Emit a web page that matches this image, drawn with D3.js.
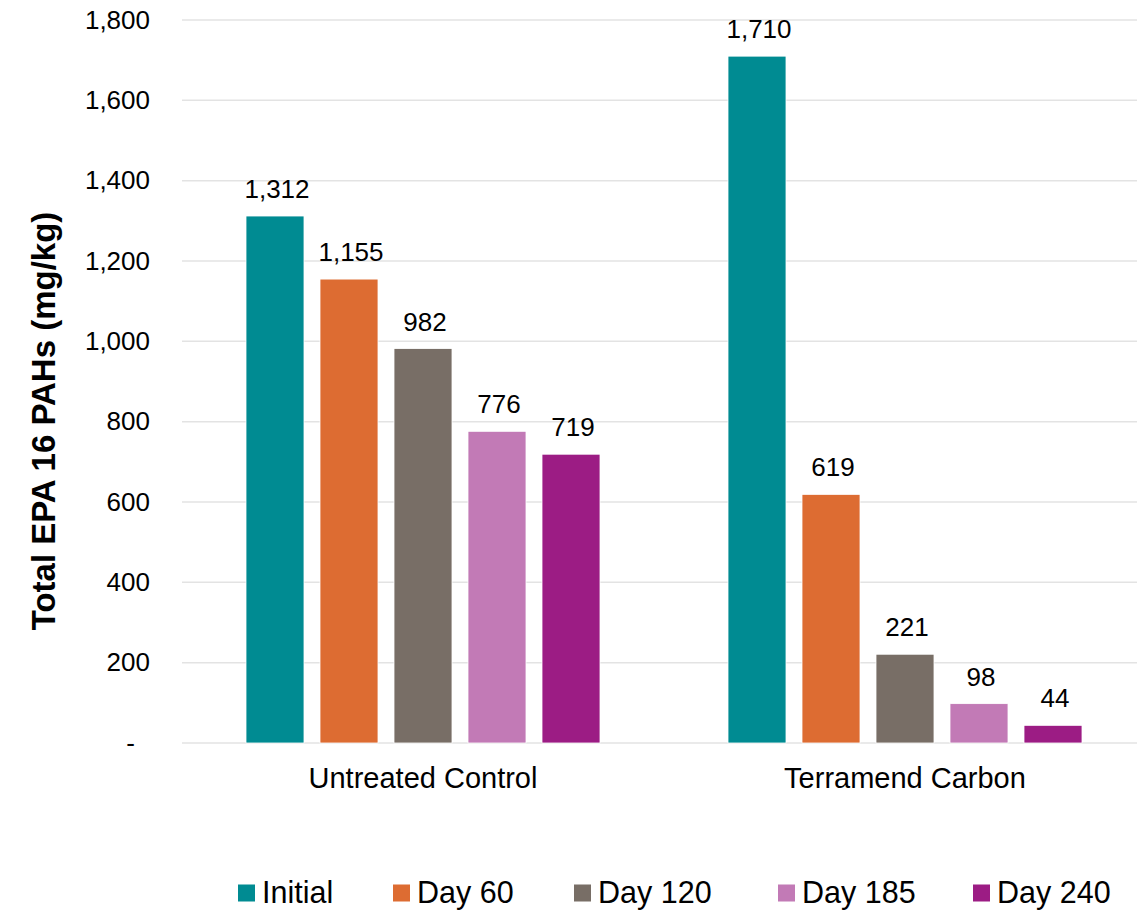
<!DOCTYPE html>
<html>
<head>
<meta charset="utf-8">
<script src="https://cdn.jsdelivr.net/npm/d3@7"></script>
<style>
  body { margin: 0; background: #fff; }
  svg text { font-family: "Liberation Sans", Arial, sans-serif; fill: #000; }
</style>
</head>
<body>
<svg id="viz" width="1137" height="911"></svg>
<script>
// data
const groups = ["Untreated Control", "Terramend Carbon"];
const series = ["Initial", "Day 60", "Day 120", "Day 185", "Day 240"];
const untreated = [1312, 1155, 982, 776, 719];
const terramend = [1710, 619, 221, 98, 44];
const yTicks = [0, 200, 400, 600, 800, 1000, 1200, 1400, 1600, 1800];
const colors = ["#008b92", "#dd6c32", "#786e66", "#c27ab6", "#9c1c84"];

const values = [untreated, terramend];

const svg = d3.select("#viz");
const plotLeft = 182, plotRight = 1146, plotTop = 20, plotBottom = 743;

const y = d3.scaleLinear().domain([0, 1800]).range([plotBottom, plotTop]);
const x0 = d3.scaleBand().domain(groups).range([plotLeft, plotRight]);
const inner = 370;
const x1 = d3.scaleBand().domain(series)
  .range([(x0.bandwidth() - inner) / 2, (x0.bandwidth() + inner) / 2])
  .paddingInner(16 / 74).paddingOuter(8 / 74);

// gridlines
svg.append("g")
  .selectAll("line")
  .data(yTicks)
  .join("line")
  .attr("x1", plotLeft).attr("x2", 1137)
  .attr("y1", d => y(d)).attr("y2", d => y(d))
  .attr("stroke", "#e3e3e3").attr("stroke-width", 1.5);

// y axis labels
const yAxis = svg.append("g")
  .attr("transform", `translate(150,0)`)
  .call(d3.axisLeft(y).tickValues(yTicks).tickSize(0).tickPadding(0)
    .tickFormat(d => d === 0 ? "-" : d3.format(",")(d)));
yAxis.select(".domain").remove();
yAxis.selectAll("text")
  .attr("font-size", 26)
  .attr("font-family", "Liberation Sans, Arial, sans-serif")
  .attr("fill", "#000")
  .attr("dx", d => d === 0 ? -15 : 0);

// bars
const g = svg.append("g")
  .selectAll("g")
  .data(groups)
  .join("g")
  .attr("transform", d => `translate(${x0(d)},0)`);

const bars = g.selectAll("g")
  .data((d, i) => series.map((s, j) => ({ s, v: values[i][j], c: colors[j] })))
  .join("g");

bars.append("rect")
  .attr("x", d => x1(d.s))
  .attr("width", x1.bandwidth())
  .attr("y", d => y(d.v))
  .attr("height", d => y(0) - y(d.v))
  .attr("fill", d => d.c)
  .attr("stroke", "#fff").attr("stroke-width", 0.8);

bars.append("text")
  .attr("x", d => x1(d.s) + x1.bandwidth() / 2 + 2)
  .attr("y", d => y(d.v) - 18)
  .attr("text-anchor", "middle")
  .attr("font-size", 26)
  .text(d => d3.format(",")(d.v));

// category labels
svg.append("g")
  .selectAll("text")
  .data(groups)
  .join("text")
  .attr("x", d => x0(d) + x0.bandwidth() / 2)
  .attr("y", 788)
  .attr("text-anchor", "middle")
  .attr("font-size", 29)
  .text(d => d);

// y axis title
svg.append("text")
  .attr("transform", "translate(55,421) rotate(-90)")
  .attr("text-anchor", "middle")
  .attr("font-size", 33)
  .attr("font-weight", "bold")
  .text("Total EPA 16 PAHs (mg/kg)");

// legend
const legendX = [238, 393, 574, 778, 973];
const legend = svg.append("g")
  .selectAll("g")
  .data(series)
  .join("g")
  .attr("transform", (d, i) => `translate(${legendX[i]},893)`);
legend.append("rect")
  .attr("x", 0).attr("y", -8.5).attr("width", 17).attr("height", 17)
  .attr("fill", (d, i) => colors[i]);
legend.append("text")
  .attr("x", 24).attr("y", 10)
  .attr("font-size", 30.5)
  .text(d => d);
</script>
</body>
</html>
